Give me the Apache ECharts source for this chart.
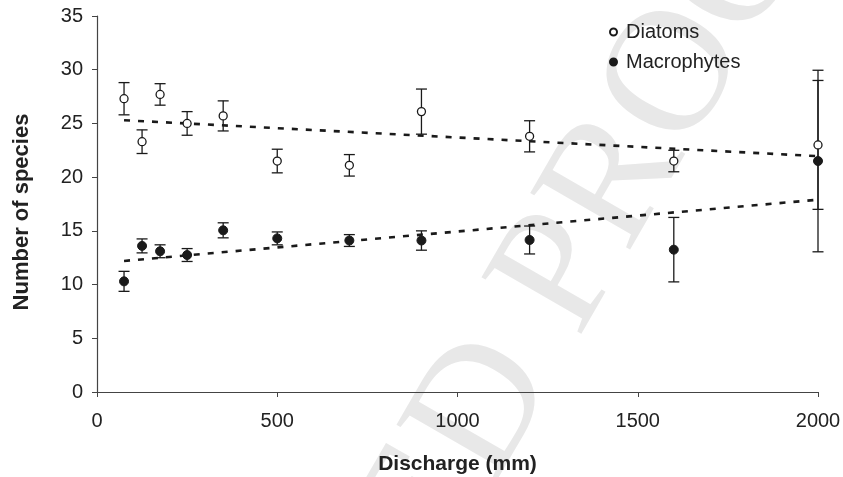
<!DOCTYPE html>
<html>
<head>
<meta charset="utf-8">
<script src="https://cdn.jsdelivr.net/npm/echarts@6/dist/echarts.min.js"></script>
<style>
  html, body { margin: 0; padding: 0; background: #fff; }
  #chart { width: 843px; height: 477px; }
</style>
</head>
<body>
<div id="chart"></div>
<script>
// discharge (mm) for each site
var discharge = [75, 125, 175, 250, 350, 500, 700, 900, 1200, 1600, 2000];
// mean number of species
var diatoms = [27.3, 23.3, 27.7, 25.0, 25.7, 21.5, 21.1, 26.1, 23.8, 21.5, 23.0];
var macrophytes = [10.3, 13.6, 13.1, 12.75, 15.05, 14.3, 14.1, 14.1, 14.15, 13.25, 21.5];
// error (+/-)
var diatomErr = [1.5, 1.1, 1.0, 1.1, 1.4, 1.1, 1.0, 2.1, 1.45, 1.0, 6.0];
var macroErr = [0.93, 0.65, 0.6, 0.6, 0.7, 0.6, 0.55, 0.9, 1.3, 3.0, 8.45];
// linear trend lines (end points)
var trendX = [75, 2000];
var diatomTrend = [25.3, 21.95];
var macroTrend = [12.2, 17.9];
var xTicks = [0, 500, 1000, 1500, 2000];
var yTicks = [0, 5, 10, 15, 20, 25, 30, 35];

var ink = '#1a1a1a';
var txt = '#222';

function pts(xs, ys) {
    return xs.map(function (x, i) { return [x, ys[i]]; });
}
function errData(ys, es) {
    return discharge.map(function (x, i) { return [x, ys[i] - es[i], ys[i] + es[i]]; });
}
function errorBars(params, api) {
    var x = api.value(0);
    var lo = api.coord([x, api.value(1)]);
    var hi = api.coord([x, api.value(2)]);
    var w = 5.5;
    var style = { stroke: ink, lineWidth: 1.3 };
    return {
        type: 'group',
        children: [
            { type: 'line', shape: { x1: lo[0], y1: lo[1], x2: hi[0], y2: hi[1] }, style: style },
            { type: 'line', shape: { x1: lo[0] - w, y1: lo[1], x2: lo[0] + w, y2: lo[1] }, style: style },
            { type: 'line', shape: { x1: hi[0] - w, y1: hi[1], x2: hi[0] + w, y2: hi[1] }, style: style }
        ]
    };
}

var chart = echarts.init(document.getElementById('chart'));
var option = {
    animation: false,
    textStyle: { fontFamily: 'Liberation Sans, Arial, sans-serif' },
    graphic: [{
        type: 'text',
        x: 400,
        y: 556,
        rotation: Math.PI / 3,
        z: -10,
        silent: true,
        style: {
            text: 'ED PROOF',
            fontFamily: 'Liberation Serif, Times New Roman, serif',
            fontSize: 175,
            fill: '#e8e8e8',
            textAlign: 'left',
            textVerticalAlign: 'middle'
        }
    }],
    grid: { left: 97, right: 25, top: 16, bottom: 85, outerBoundsMode: 'none' },
    legend: {
        orient: 'vertical',
        left: 604,
        top: 17,
        itemGap: 10,
        itemWidth: 7,
        itemHeight: 7,
        textStyle: { fontSize: 20, color: txt, padding: [0, 0, 0, 4] },
        data: [
            { name: 'Diatoms', icon: 'circle' },
            { name: 'Macrophytes', icon: 'circle' }
        ]
    },
    xAxis: {
        type: 'value',
        min: xTicks[0],
        max: xTicks[xTicks.length - 1],
        interval: xTicks[1] - xTicks[0],
        name: 'Discharge (mm)',
        nameLocation: 'middle',
        nameGap: 62,
        nameTextStyle: { fontSize: 21, fontWeight: 'bold', color: txt },
        axisLine: { lineStyle: { color: '#444', width: 1.2 } },
        axisTick: { show: true, length: 5, lineStyle: { color: '#444' } },
        axisLabel: { fontSize: 20, color: txt, margin: 19, formatter: function (v) { return String(v); } },
        splitLine: { show: false }
    },
    yAxis: {
        type: 'value',
        min: yTicks[0],
        max: yTicks[yTicks.length - 1],
        interval: yTicks[1] - yTicks[0],
        name: 'Number of species',
        nameLocation: 'middle',
        nameGap: 64,
        nameTextStyle: { fontSize: 22, fontWeight: 'bold', color: txt, padding: [0, 16, 0, 0] },
        axisLine: { show: true, lineStyle: { color: '#444', width: 1.2 } },
        axisTick: { show: true, length: 5, lineStyle: { color: '#444' } },
        axisLabel: { fontSize: 20, color: txt, margin: 14 },
        splitLine: { show: false }
    },
    series: [
        {
            name: 'Diatoms trend',
            type: 'line',
            data: pts(trendX, diatomTrend),
            symbol: 'none',
            lineStyle: { color: ink, width: 2.6, type: [6, 8] },
            z: 2
        },
        {
            name: 'Macrophytes trend',
            type: 'line',
            data: pts(trendX, macroTrend),
            symbol: 'none',
            lineStyle: { color: ink, width: 2.6, type: [6, 8] },
            z: 2
        },
        {
            name: 'Diatoms error',
            type: 'custom',
            renderItem: errorBars,
            data: errData(diatoms, diatomErr),
            encode: { x: 0, y: [1, 2] },
            z: 3
        },
        {
            name: 'Macrophytes error',
            type: 'custom',
            renderItem: errorBars,
            data: errData(macrophytes, macroErr),
            encode: { x: 0, y: [1, 2] },
            z: 3
        },
        {
            name: 'Diatoms',
            type: 'scatter',
            data: pts(discharge, diatoms),
            symbol: 'circle',
            symbolSize: 8,
            itemStyle: { color: '#fff', borderColor: ink, borderWidth: 1.3, opacity: 1 },
            z: 5
        },
        {
            name: 'Macrophytes',
            type: 'scatter',
            data: pts(discharge, macrophytes),
            symbol: 'circle',
            symbolSize: 9,
            itemStyle: { color: ink, borderColor: ink, borderWidth: 1, opacity: 1 },
            z: 5
        }
    ]
};
chart.setOption(option);
</script>
</body>
</html>
